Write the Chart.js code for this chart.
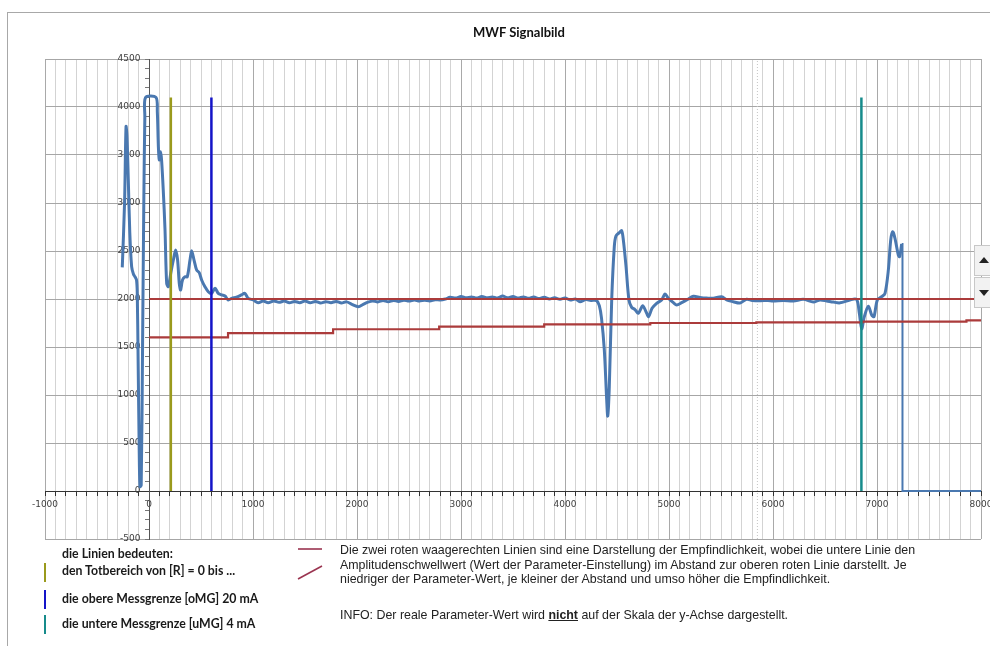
<!DOCTYPE html>
<html>
<head>
<meta charset="utf-8">
<script src="https://cdn.jsdelivr.net/npm/chart.js@4.4.1/dist/chart.umd.min.js"></script>
<style>
html,body{margin:0;padding:0;background:#fff;overflow:hidden;width:990px;height:646px;position:relative;}
#frame{position:absolute;left:7px;top:12px;width:1200px;height:800px;border-left:1px solid #a8a8a8;border-top:1px solid #a8a8a8;}
#wrap{position:absolute;left:0;top:0;width:1010px;height:646px;}
#title{position:absolute;left:0;width:1038px;top:24px;text-align:center;font:bold 13px Lato,"Open Sans",sans-serif;color:#111;}
.leg{position:absolute;left:62px;font:bold 12.3px Lato,"Open Sans",sans-serif;color:#1a1a1a;white-space:nowrap;line-height:14px;}
.bar{position:absolute;left:44px;width:2px;height:19px;}
#info{position:absolute;left:340px;top:543px;font:12.4px "Liberation Sans",Arial,sans-serif;color:#222;line-height:14.5px;white-space:nowrap;}
#info p{margin:0;}
#marks{position:absolute;left:295px;top:543px;}
#scroll{position:absolute;left:974px;top:245px;width:20px;height:64px;}
.btn{position:absolute;left:0;width:20px;height:31px;background:#f2f2f2;border:1px solid #c8c8c8;box-sizing:border-box;}
</style>
</head>
<body>
<div id="frame"></div>
<div id="wrap"><canvas id="c" width="1010" height="646"></canvas></div>
<div id="title">MWF Signalbild</div>

<div class="leg" style="top:547px">die Linien bedeuten:</div>
<div class="bar" style="top:563px;background:#9a9a1c"></div>
<div class="leg" style="top:564px">den Totbereich von [R] = 0 bis ...</div>
<div class="bar" style="top:590px;background:#1414c8"></div>
<div class="leg" style="top:592px">die obere Messgrenze [oMG] 20 mA</div>
<div class="bar" style="top:615px;background:#168b8b"></div>
<div class="leg" style="top:617px">die untere Messgrenze [uMG] 4 mA</div>

<svg id="marks" width="32" height="42">
  <line x1="3" y1="6" x2="27" y2="6" stroke="#9a3450" stroke-width="1.6"/>
  <line x1="3" y1="36" x2="27" y2="23" stroke="#9a3450" stroke-width="1.6"/>
</svg>
<div id="info">
<p>Die zwei roten waagerechten Linien sind eine Darstellung der Empfindlichkeit, wobei die untere Linie den</p>
<p>Amplitudenschwellwert (Wert der Parameter-Einstellung) im Abstand zur oberen roten Linie darstellt. Je</p>
<p>niedriger der Parameter-Wert, je kleiner der Abstand und umso höher die Empfindlichkeit.</p>
<p style="margin-top:21px">INFO: Der reale Parameter-Wert wird <b><u>nicht</u></b> auf der Skala der y-Achse dargestellt.</p>
</div>

<div id="scroll">
  <div class="btn" style="top:0"><svg width="18" height="29"><polygon points="4,17 14,17 9,11" fill="#222"/></svg></div>
  <div class="btn" style="top:32px"><svg width="18" height="29"><polygon points="4,12 14,12 9,18" fill="#222"/></svg></div>
</div>

<script>
// ---- data ----
const xAxisMin = -1000, xAxisMax = 8000;
const yAxisMin = -500, yAxisMax = 4500;

const totbereichX = 210;      // olive line
const obereGrenzeX = 600;     // blue line (oMG 20 mA)
const untereGrenzeX = 6850;   // teal line (uMG 4 mA)
const markerTopY = 4100;
const dottedMarkerX = 5850;

const upperLineX = [0, 8000];
const upperLineY = [2000, 2000];

const lowerStepX = [0, 760, 1770, 2790, 3800, 4820, 5840, 6860, 7860, 8000];
const lowerStepY = [1600, 1645, 1685, 1712, 1735, 1750, 1757, 1765, 1778, 1778];

const signalX = [-257,-235,-221,-212,-199,-185,-167,-150,-135,-120,-113,-105,-95,-87,-75,-62,-50,-40,-33,
  67,80,90,99,112,121,137,154,170,186,209,234,256,275,291,304,322,346,368,394,410,433,458,483,506,538,570,602,635,666,699,731,762,795,841,889,921,954,
  1002,1050,1098,1146,1200,1250,1300,1350,1400,1450,1500,1550,1600,1650,1700,1750,1800,1850,1900,1950,2013,2060,2100,2150,2200,2250,2300,2350,2400,2450,2500,2550,2600,2650,2700,2750,2800,2850,2894,2950,
  3000,3050,3100,3150,3200,3250,3300,3350,3400,3450,3500,3550,3600,3650,3700,3750,3800,3850,3900,3952,
  4000,4050,4100,4144,4200,4250,4304,4330,4351,4378,4401,4411,4426,4449,4474,4490,4522,4545,4561,4587,4615,4641,4673,4705,4747,4779,4804,4837,4881,4929,4962,4994,
  5042,5074,5122,5170,5234,5298,5362,5426,5506,5554,5618,5682,5746,5800,5880,5950,
  6000,6100,6196,6292,6388,6452,6516,6580,6644,6740,6804,6830,6853,6878,6917,6949,6971,
  7003,7045,7077,7109,7132,7151,7173,7205,7218,7237];
const signalY = [2330,3000,3795,3700,3240,2700,2337,2260,2232,2198,2062,1400,500,45,60,1500,3000,3900,4100,
  4100,3950,3590,3448,3535,3448,3135,2719,2163,2128,2267,2406,2510,2406,2163,2094,2198,2232,2232,2406,2503,2406,2302,2274,2198,2128,2076,2059,2111,2059,2042,2031,1990,2007,2018,2042,2059,2007,
  1990,1962,1979,1962,1980,1965,1978,1960,1975,1962,1978,1960,1975,1958,1972,1962,1975,1958,1970,1945,1920,1945,1965,1980,1970,1985,1972,1985,1975,1988,1978,1990,1980,1988,1980,1992,1990,2000,2017,2010,
  2025,2012,2022,2010,2025,2012,2022,2010,2030,2012,2025,2010,2022,2008,2020,2005,2018,2000,2012,1997,
  2010,1990,2000,1972,1995,1985,1983,1930,1800,1469,948,781,1086,1990,2545,2656,2691,2712,2615,2337,1990,1913,1890,1851,1930,1868,1816,1903,1955,1990,2052,2007,
  1962,1938,1962,1990,2028,2017,2010,2007,2024,1990,1972,1958,1997,1985,1982,1985,
  1980,1985,1979,1997,1968,1990,1980,1968,1960,1990,1995,1851,1690,1816,1925,1833,1816,
  1990,2024,2059,2300,2615,2701,2630,2458,2441,2573];

const signalTailX = [7237, 7245, 7245, 8000];
const signalTailY = [2573, 2573, 0, 0];

// ---- helpers ----
const pts = (xs, ys) => xs.map((x, i) => ({x, y: ys[i]}));
const vline = (x, y0, y1) => [{x, y: y0}, {x, y: y1}];

const ds = [
  {data: vline(untereGrenzeX, 0, markerTopY), borderColor: '#168b8b', borderWidth: 2.5},
  {data: vline(obereGrenzeX, 0, markerTopY), borderColor: '#1414c8', borderWidth: 2.5},
  {data: vline(totbereichX, 0, markerTopY), borderColor: '#9a9a1c', borderWidth: 2.5},
  {data: pts(upperLineX, upperLineY), borderColor: '#ab3b3b', borderWidth: 2.2},
  {data: pts(lowerStepX, lowerStepY), borderColor: '#ab3b3b', borderWidth: 2.2, stepped: 'before'},
  {data: pts(signalTailX, signalTailY), borderColor: '#4a78b0', borderWidth: 2},
  {data: pts(signalX, signalY), borderColor: '#4a78b0', borderWidth: 3, tension: 0.3},
  {data: vline(dottedMarkerX, yAxisMin, yAxisMax), borderColor: '#c4c4c4', borderWidth: 1, borderDash: [1, 2]}
].map(d => Object.assign({pointRadius: 0, fill: false, tension: 0}, d));

const tickFont = {family: 'DejaVu Sans', size: 9};

new Chart(document.getElementById('c'), {
  type: 'line',
  data: {datasets: ds},
  options: {
    responsive: false,
    animation: false,
    events: [],
    layout: {padding: {left: 45, top: 59, right: 29, bottom: 107}},
    plugins: {legend: {display: false}, tooltip: {enabled: false}, title: {display: false}},
    scales: {
      x: {
        type: 'linear', min: xAxisMin, max: xAxisMax,
        position: {y: 0},
        ticks: {
          stepSize: 100, autoSkip: false, maxRotation: 0, font: tickFont, color: '#404040', padding: 4,
          callback: v => (Math.round(v) % 1000 === 0 ? String(Math.round(v)) : '')
        },
        grid: {
          color: c => (Math.round(c.tick.value) % 1000 === 0 ? '#a9a9a9' : '#d3d3d3'),
          tickColor: '#333', tickLength: 4, lineWidth: 1
        },
        border: {color: '#333', width: 1}
      },
      y: {
        type: 'linear', min: yAxisMin, max: yAxisMax,
        position: {x: 0},
        ticks: {
          stepSize: 100, autoSkip: false, font: tickFont, color: '#404040', padding: 4,
          // trailing spaces keep the right-aligned labels clear of the axis line
          callback: v => (Math.round(v) % 500 === 0 ? String(Math.round(v)) + '   ' : '')
        },
        grid: {
          color: c => (Math.round(c.tick.value) % 500 === 0 ? '#a6a6a6' : 'rgba(0,0,0,0)'),
          tickColor: '#777', tickLength: 4, lineWidth: 1
        },
        border: {color: '#555', width: 1}
      }
    }
  }
});
</script>
</body>
</html>
